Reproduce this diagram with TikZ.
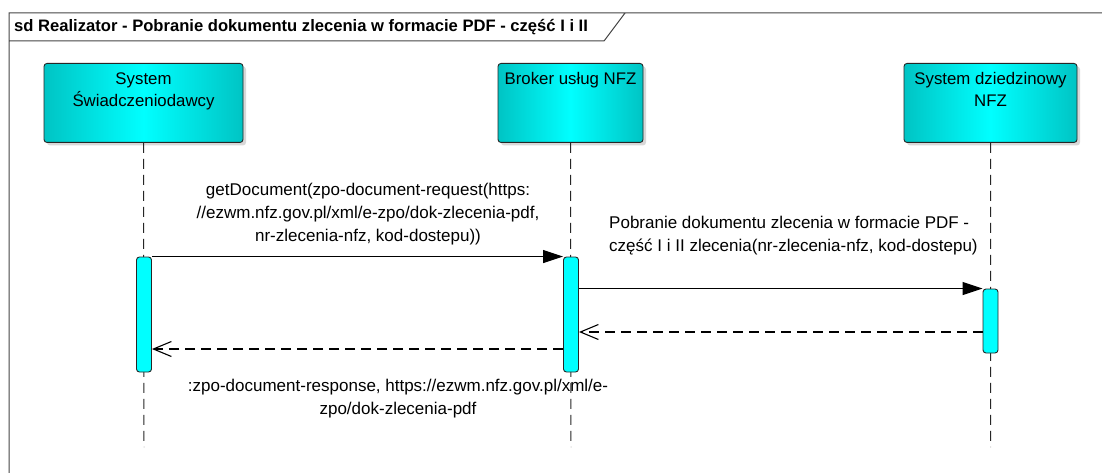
\documentclass[tikz,border=0pt]{standalone}
\usepackage{fontspec}
\setmainfont{Liberation Sans}
\usetikzlibrary{arrows.meta,shadows}
\definecolor{cyandark}{RGB}{0,196,196}
\definecolor{cyanlight}{RGB}{0,255,255}
\definecolor{framegray}{RGB}{70,70,70}

\begin{document}
\begin{tikzpicture}[x=1pt,y=-1pt,
	lifebox/.style={draw=black!85,line width=0.9pt,rounded corners=3pt,left color=cyandark,right color=cyandark,middle color=cyanlight,align=center,anchor=north,inner ysep=5pt,text height=16pt,text depth=53pt,font=\fontsize{16.8}{22}\selectfont,drop shadow={shadow xshift=3pt,shadow yshift=-3pt,fill=black!30}},
	twolines/.style={text height=38pt,text depth=31pt},
	actbar/.style={draw=black!85,line width=0.9pt,rounded corners=3pt,fill=cyanlight,minimum width=15pt,inner sep=0pt},
	lifeline/.style={draw=black!85,line width=1pt,dash pattern=on 10pt off 6pt},
	call/.style={line width=1.1pt,-{Triangle[length=20pt,width=13pt]}},
	reply/.style={line width=1.1pt,dash pattern=on 10pt off 6pt,-{Straight Barb[length=18pt,width=15pt,line width=1.1pt]}},
	msg/.style={font=\fontsize{17}{23}\selectfont,inner sep=0pt}]
		\clip (0,0) rectangle (1102,473);
		\fill[white] (0,0) rectangle (1102,473);

		\draw[framegray,line width=1pt] (9,480) -- (9,13) -- (1110,13)
		(9,41) -- (604,41) -- (625,13);
		\node[anchor=west,font=\fontsize{16.6}{20}\selectfont\bfseries,inner sep=0pt] (title) at (14,27) {sd Realizator - Pobranie dokumentu zlecenia w formacie PDF - część I i II};

		\path (143.5,63) node[lifebox,twolines,minimum width=199pt] (sys) {System\\Świadczeniodawcy}
		(570.5,63) node[lifebox,minimum width=145pt] (broker) {Broker usług NFZ}
		(990.5,63) node[lifebox,twolines,minimum width=173pt] (dom) {System dziedzinowy\\NFZ};

		\coordinate (sysend) at (144,447);
		\coordinate (brokerend) at (571,447);
		\coordinate (domend) at (990.5,447);
		\draw[lifeline] (sys.south) -- (sysend)
		(broker.south) -- (brokerend)
		(dom.south) -- (domend);

		\path (144,314.5) node[actbar,minimum height=115pt] (actsys) {}
		(571,314.5) node[actbar,minimum height=115pt] (actbroker) {}
		(990.5,321) node[actbar,minimum height=64pt] (actdom) {};

		\coordinate (ret1) at (0,332);
		\coordinate (ret2) at (0,349);
		\draw[call] (actsys.north east) -- (actbroker.north west);
		\draw[call] (actbroker.east |- actdom.north west) -- (actdom.north west);
		\draw[reply] (actdom.west |- ret1) -- (actbroker.east |- ret1);
		\draw[reply] (actbroker.west |- ret2) -- (actsys.east |- ret2);

		\node[msg,align=center] (getdoc) at (368,214) {getDocument(zpo-document-request(https:\\//ezwm.nfz.gov.pl/xml/e-zpo/dok-zlecenia-pdf,\\nr-zlecenia-nfz, kod-dostepu))};
		\node[msg,align=left,anchor=west] (pobranie) at (609,236) {Pobranie dokumentu zlecenia w formacie PDF -\\część I i II zlecenia(nr-zlecenia-nfz, kod-dostepu)};
		\node[msg,align=center] (response) at (398,399) {:zpo-document-response, https://ezwm.nfz.gov.pl/xml/e-\\zpo/dok-zlecenia-pdf};
	\end{tikzpicture}
\end{document}
